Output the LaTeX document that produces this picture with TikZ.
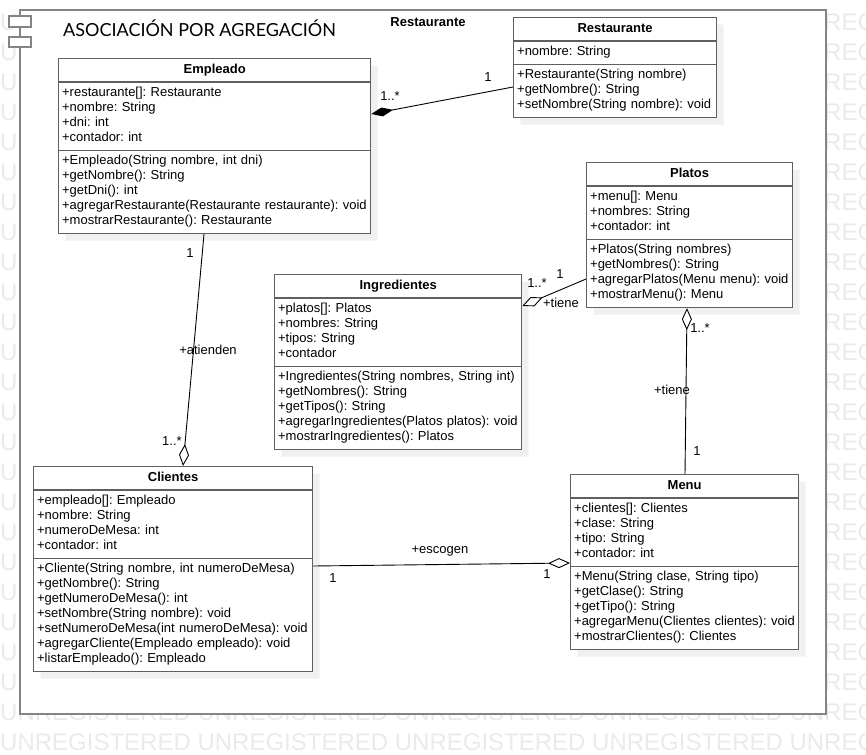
\documentclass[tikz,border=0pt]{standalone}
\usepackage{fontspec}
\setmainfont{Liberation Sans}
\newfontfamily\titlefont{Lato}
\usetikzlibrary{arrows.meta, shapes.multipart, shadows}

\definecolor{boxline}{HTML}{5F5F5F}
\definecolor{frameline}{HTML}{848484}
\definecolor{shadegray}{HTML}{F0F0F0}
\definecolor{wmgray}{HTML}{EAEAEA}

\newcommand{\umlfont}{\fontsize{13}{15}\selectfont\frenchspacing\hyphenpenalty=10000}
\newcommand{\cname}[1]{\rule[-4.5pt]{0pt}{15pt}\hfill\textbf{#1}\hfill\null}
\newcommand{\members}[1]{\strut#1\strut}

\tikzset{
  umlclass/.style={rectangle split, rectangle split parts=3, draw=boxline, line width=1.3pt,
    fill=white, anchor=north west, inner xsep=3.5pt, inner ysep=3.5pt, align=left, font=\umlfont,
    drop shadow={shadow xshift=7pt, shadow yshift=-7pt, fill=shadegray, opacity=1}},
  mult/.style={anchor=base, inner sep=0pt, font=\umlfont},
  watermark/.style={anchor=west, inner sep=0pt, text=wmgray, font=\fontsize{24}{24}\selectfont},
  pkgline/.style={draw=frameline, line width=2pt},
  comp/.style={-{Diamond[length=22pt, width=9pt]}, line width=0.9pt},
  aggr/.style={-{Diamond[length=22pt, width=10pt, fill=white]}, line width=0.9pt}
}

\begin{document}
\begin{tikzpicture}[x=1pt, y=-1pt]
  \useasboundingbox (0,0) rectangle (866,754);
  % marca de agua
  \begin{scope}
    \clip (0,0) rectangle (866,754);
    \foreach \k in {0,...,25}
      \node[watermark] (wm\k) at (0,{742-30*\k}) {UNREGISTERED UNREGISTERED UNREGISTERED UNREGISTERED UNREGISTERED};
  \end{scope}

  % paquete
  \draw[pkgline, fill=white] (20,10) rectangle (826,714);
  \draw[pkgline, fill=white, line width=1.5pt] (9,16) rectangle (31,27);
  \draw[pkgline, fill=white, line width=1.5pt] (9,37) rectangle (31,47);
  \node[anchor=base west, inner sep=0pt, font=\titlefont\fontsize{18}{20}\selectfont] (title) at (63,37) {ASOCIACIÓN POR AGREGACIÓN};
  \node[mult, font=\umlfont\bfseries] (pkgname) at (428,27) {Restaurante};

  % clases
  \node[umlclass, text width=305pt] (emp) at (58,58) {\cname{Empleado}
    \nodepart{second}\members{+restaurante[]: Restaurante\\+nombre: String\\+dni: int\\+contador: int}
    \nodepart{third}\members{+Empleado(String nombre, int dni)\\+getNombre(): String\\+getDni(): int\\+agregarRestaurante(Restaurante restaurante): void\\+mostrarRestaurante(): Restaurante}};
  \node[umlclass, text width=196pt] (rest) at (513,17) {\cname{Restaurante}
    \nodepart{second}\members{+nombre: String}
    \nodepart{third}\members{+Restaurante(String nombre)\\+getNombre(): String\\+setNombre(String nombre): void}};
  \node[umlclass, text width=199pt] (pla) at (586,162) {\cname{Platos}
    \nodepart{second}\members{+menu[]: Menu\\+nombres: String\\+contador: int}
    \nodepart{third}\members{+Platos(String nombres)\\+getNombres(): String\\+agregarPlatos(Menu menu): void\\+mostrarMenu(): Menu}};
  \node[umlclass, text width=240pt] (ing) at (274,274) {\cname{Ingredientes}
    \nodepart{second}\members{+platos[]: Platos\\+nombres: String\\+tipos: String\\+contador}
    \nodepart{third}\members{+Ingredientes(String nombres, String int)\\+getNombres(): String\\+getTipos(): String\\+agregarIngredientes(Platos platos): void\\+mostrarIngredientes(): Platos}};
  \node[umlclass, text width=272pt] (cli) at (33,466) {\cname{Clientes}
    \nodepart{second}\members{+empleado[]: Empleado\\+nombre: String\\+numeroDeMesa: int\\+contador: int}
    \nodepart{third}\members{+Cliente(String nombre, int numeroDeMesa)\\+getNombre(): String\\+getNumeroDeMesa(): int\\+setNombre(String nombre): void\\+setNumeroDeMesa(int numeroDeMesa): void\\+agregarCliente(Empleado empleado): void\\+listarEmpleado(): Empleado}};
  \node[umlclass, text width=221pt] (men) at (570,474) {\cname{Menu}
    \nodepart{second}\members{+clientes[]: Clientes\\+clase: String\\+tipo: String\\+contador: int}
    \nodepart{third}\members{+Menu(String clase, String tipo)\\+getClase(): String\\+getTipo(): String\\+agregarMenu(Clientes clientes): void\\+mostrarClientes(): Clientes}};

  % relaciones
  \draw[comp] ([yshift=-70pt]rest.north west) -- ([yshift=-56pt]emp.north east);
  \draw[aggr] ([xshift=146pt]emp.south west) -- ([xshift=150pt]cli.north west);
  \draw[aggr] ([yshift=-117pt]pla.north west) -- ([yshift=-32pt]ing.north east);
  \draw[aggr] ([xshift=115pt]men.north west) -- ([xshift=101pt]pla.south west);
  \draw[aggr] ([yshift=-100pt]cli.north east) -- ([yshift=-89pt]men.north west);

  % multiplicidades y roles
  \node[mult] (m1) at (390,101) {1..*};
  \node[mult] (m2) at (488,82) {1};
  \node[mult] (m3) at (190,257) {1};
  \node[mult] (r1) at (208,354) {+atienden};
  \node[mult] (m4) at (172,445) {1..*};
  \node[mult] (m5) at (537,287) {1..*};
  \node[mult] (m6) at (560,278) {1};
  \node[mult] (r2) at (561,307) {+tiene};
  \node[mult] (m7) at (700,332) {1..*};
  \node[mult] (r3) at (672,394) {+tiene};
  \node[mult] (m8) at (697,455) {1};
  \node[mult] (r4) at (440,553) {+escogen};
  \node[mult] (m9) at (333,582) {1};
  \node[mult] (m10) at (547,578) {1};
\end{tikzpicture}
\end{document}
